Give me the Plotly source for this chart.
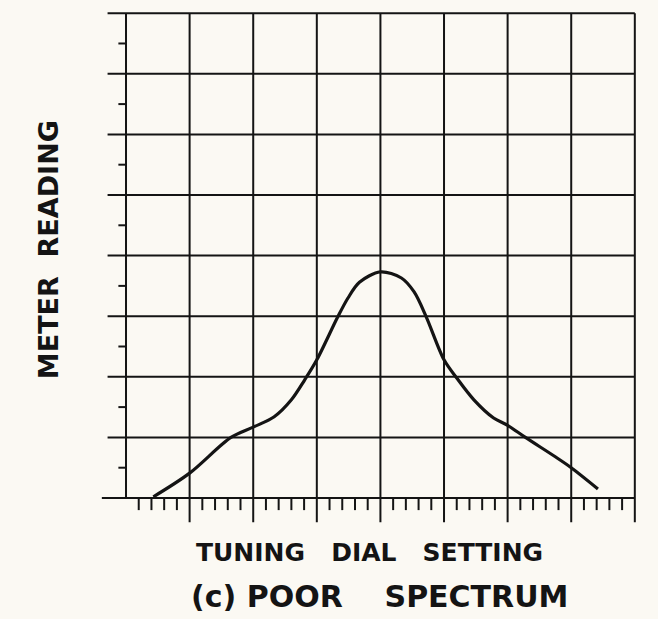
import plotly.graph_objects as go

# Grid: 8 dial divisions x 8 meter divisions
x_major = [0, 1, 2, 3, 4, 5, 6, 7, 8]
y_major = [0, 1, 2, 3, 4, 5, 6, 7, 8]
x_minor_sub = [0.2, 0.4, 0.6, 0.8]
y_minor_sub = [0.5]

# Curve (grid units)
dial = [0.43, 1.0, 1.65, 2.0, 2.33, 2.6, 2.81, 3.0, 3.33, 3.49, 3.67, 4.0,
        4.33, 4.53, 4.72, 5.0, 5.2, 5.47, 5.78, 6.0, 6.28, 6.75, 7.0, 7.42]
meter = [0.02, 0.41, 1.0, 1.17, 1.34, 1.62, 1.95, 2.28, 2.99, 3.3, 3.56, 3.73,
         3.63, 3.4, 2.99, 2.28, 1.98, 1.62, 1.32, 1.2, 1.0, 0.68, 0.50, 0.15]

y_label = "METER  READING"
x_label = "TUNING   DIAL   SETTING"
caption = "(c) POOR    SPECTRUM"

INK = "#141414"
PAPER = "#fbf9f3"

shapes = []
# vertical grid lines
for xv in x_major:
    y0 = 0 if xv == 0 else -0.40
    shapes.append(dict(type="line", xref="x", yref="y", x0=xv, x1=xv, y0=y0, y1=8,
                       line=dict(color=INK, width=2)))
# horizontal grid lines
for yv in y_major:
    x0 = -0.38 if yv == 0 else -0.29
    shapes.append(dict(type="line", xref="x", yref="y", x0=x0, x1=8, y0=yv, y1=yv,
                       line=dict(color=INK, width=2)))
# bottom minor ticks
for xv in x_major[:-1]:
    for s in x_minor_sub:
        shapes.append(dict(type="line", xref="x", yref="y", x0=xv + s, x1=xv + s,
                           y0=0, y1=-0.2, line=dict(color=INK, width=2)))
# left minor ticks
for yv in y_major[:-1]:
    for s in y_minor_sub:
        shapes.append(dict(type="line", xref="x", yref="y", x0=-0.12, x1=0,
                           y0=yv + s, y1=yv + s, line=dict(color=INK, width=2)))

fig = go.Figure()
fig.add_trace(go.Scatter(x=dial, y=meter, mode="lines",
                         line=dict(color=INK, width=3.2, shape="spline", smoothing=0.9),
                         hoverinfo="skip"))

font_family = "DejaVu Sans, Arial, sans-serif"
annotations = [
    dict(text="<b>" + y_label + "</b>", xref="paper", yref="paper", x=-0.0954, y=0.533,
         showarrow=False, textangle=-90, xanchor="center", yanchor="middle",
         font=dict(family=font_family, size=27, color=INK)),
    dict(text="<b>" + x_label + "</b>", xref="paper", yref="paper", x=0.4936, y=-0.0438,
         showarrow=False, xanchor="center", yanchor="middle",
         font=dict(family=font_family, size=25, color=INK)),
    dict(text="<b>" + caption + "</b>", xref="paper", yref="paper", x=0.512, y=-0.1276,
         showarrow=False, xanchor="center", yanchor="middle",
         font=dict(family=font_family, size=30, color=INK)),
]

fig.update_layout(
    width=658, height=619,
    margin=dict(l=100, r=13, t=5, b=89),
    paper_bgcolor=PAPER, plot_bgcolor=PAPER,
    showlegend=False,
    shapes=shapes,
    annotations=annotations,
    xaxis=dict(range=[-0.409, 8.16], showgrid=False, zeroline=False,
               showticklabels=False, ticks="", showline=False, fixedrange=True),
    yaxis=dict(range=[-0.528, 8.135], showgrid=False, zeroline=False,
               showticklabels=False, ticks="", showline=False, fixedrange=True),
)

fig.write_html("out.html")
